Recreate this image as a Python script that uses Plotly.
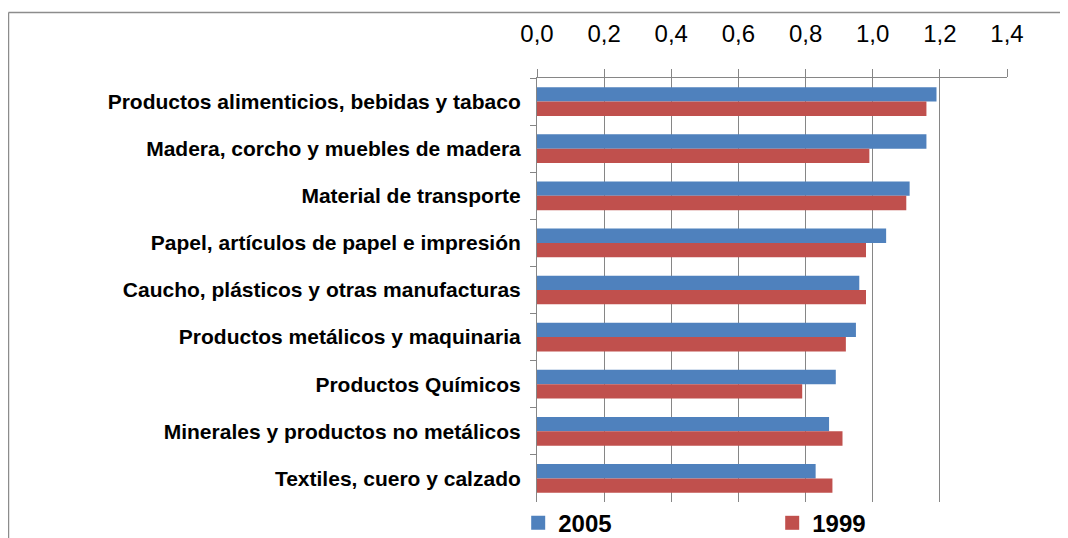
import plotly.graph_objects as go

sectores = [
    "Productos alimenticios, bebidas y tabaco",
    "Madera, corcho y muebles de madera",
    "Material de transporte",
    "Papel, artículos de papel e impresión",
    "Caucho, plásticos y otras manufacturas",
    "Productos metálicos y maquinaria",
    "Productos Químicos",
    "Minerales y productos no metálicos",
    "Textiles, cuero y calzado",
]
valores_2005 = [1.19, 1.16, 1.11, 1.04, 0.96, 0.95, 0.89, 0.87, 0.83]
valores_1999 = [1.16, 0.99, 1.10, 0.98, 0.98, 0.92, 0.79, 0.91, 0.88]
ticks_x = [0.0, 0.2, 0.4, 0.6, 0.8, 1.0, 1.2, 1.4]

AZUL = "#4F81BD"
ROJO = "#C0504D"
GRIS = "#868686"
FUENTE = "Liberation Sans, Arial, sans-serif"

fig = go.Figure()
fig.add_trace(go.Bar(y=sectores, x=valores_2005, name="2005", showlegend=False,
                     orientation="h", marker=dict(color=AZUL, line_width=0)))
fig.add_trace(go.Bar(y=sectores, x=valores_1999, name="1999", showlegend=False,
                     orientation="h", marker=dict(color=ROJO, line_width=0)))

# entradas de leyenda con cuadrado grande como en Excel
for nombre, color in [("2005", AZUL), ("1999", ROJO)]:
    fig.add_trace(go.Scatter(x=[None], y=[None], mode="markers", name=nombre,
                             marker=dict(symbol="square", size=14, color=color)))

# la página tiene 8 px de margen en el body
fig.update_layout(
    width=1060,
    height=530,
    margin=dict(l=529, r=61, t=70, b=36, autoexpand=False),
    barmode="group",
    bargap=0.39,
    bargroupgap=0,
    separators=", ",
    paper_bgcolor="white",
    plot_bgcolor="white",
    font=dict(family=FUENTE, color="black"),
    xaxis=dict(
        side="top",
        range=[0, 1.4],
        tickvals=ticks_x,
        tickformat=".1f",
        showgrid=True,
        gridcolor=GRIS,
        gridwidth=1,
        zeroline=False,
        showline=True,
        linecolor=GRIS,
        linewidth=1,
        ticks="outside",
        ticklen=8,
        tickcolor=GRIS,
        tickfont=dict(size=24, color="black"),
        ticklabelstandoff=17,
    ),
    yaxis=dict(
        autorange="reversed",
        showgrid=False,
        showline=True,
        linecolor=GRIS,
        linewidth=1,
        ticks="outside",
        tickson="boundaries",
        ticklen=6,
        tickcolor=GRIS,
        tickfont=dict(size=21, color="black", weight="bold"),
        ticklabelstandoff=11,
    ),
    legend=dict(
        orientation="h",
        x=-0.04,
        xanchor="left",
        y=-0.05,
        yanchor="middle",
        font=dict(size=24, weight="bold", color="black"),
        entrywidth=209,
        entrywidthmode="pixels",
        itemsizing="trace",
        bgcolor="rgba(0,0,0,0)",
    ),
    shapes=[
        dict(type="line", xref="paper", yref="paper",
             x0=-1.1245, x1=1.2, y0=1.1545, y1=1.1545,
             line=dict(color="#8c8c8c", width=1.5)),
        dict(type="line", xref="paper", yref="paper",
             x0=-1.1245, x1=-1.1245, y0=1.1545, y1=-0.2,
             line=dict(color="#8c8c8c", width=1.5)),
    ],
)

fig.write_html("out.html")
